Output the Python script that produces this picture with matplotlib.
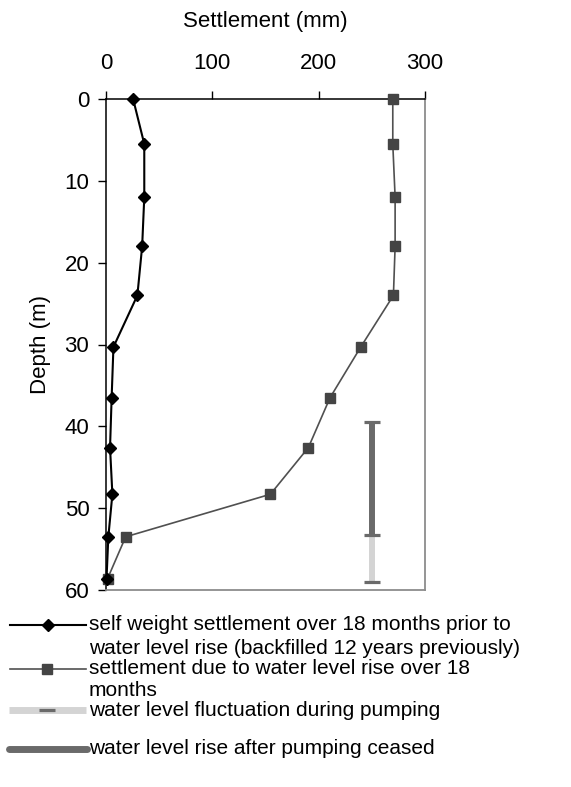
import matplotlib
matplotlib.use("Agg")
import matplotlib.pyplot as plt
from matplotlib.lines import Line2D

plt.rcParams['font.family'] = ['Liberation Sans', 'DejaVu Sans']

# Depth of each measurement point (m)
depth = [0, 5.5, 12, 18, 24, 30.3, 36.5, 42.6, 48.3, 53.5, 58.6]
# Self weight settlement over 18 months prior to water level rise (mm)
self_weight = [25.5, 36, 36, 34, 29.5, 7, 5.3, 3.8, 6, 2.2, 0.5]
# Settlement due to water level rise over 18 months (mm)
rise_settlement = [269.7, 269.7, 271.9, 271.9, 270.3, 239.6, 210.7, 190.3, 154.6, 18.5, 1.5]

# Water level ranges, drawn as vertical bars at a fixed settlement position
bar_x = 250
fluctuation_range = [53.3, 59.0]   # during pumping
rise_range = [39.5, 53.3]          # after pumping ceased

x_ticks = [0, 100, 200, 300]
y_ticks = [0, 10, 20, 30, 40, 50, 60]

legend_labels = [
    "self weight settlement over 18 months prior to\nwater level rise (backfilled 12 years previously)",
    "settlement due to water level rise over 18\nmonths",
    "water level fluctuation during pumping",
    "water level rise after pumping ceased",
]

W, H = 571, 787
fig = plt.figure(figsize=(W / 100, H / 100), dpi=100)

def fx(px):
    return px / W

def fy(py):
    return 1 - py / H

ax = fig.add_axes([fx(106), fy(590), fx(425) - fx(106), fy(99) - fy(590)])

dark_bar = '#6a6a6a'
light_bar = '#d4d4d4'

# water level bars
ax.plot([bar_x, bar_x], fluctuation_range, color=light_bar, lw=4.3,
        solid_capstyle='butt', zorder=2)
ax.plot([bar_x, bar_x], rise_range, color=dark_bar, lw=4.3,
        solid_capstyle='butt', zorder=3)
ax.plot([bar_x] * 3, [rise_range[0], rise_range[1], fluctuation_range[1]],
        ls='none', marker='_', ms=11.5, mew=2.3, color=dark_bar, zorder=4)

# settlement profiles
ax.plot(rise_settlement, depth, color='#505050', lw=1.2, marker='s', ms=7.5,
        mfc='#444444', mec='#444444', clip_on=False, zorder=5)
ax.plot(self_weight, depth, color='black', lw=1.5, marker='D', ms=6.5,
        mfc='black', mec='black', clip_on=False, zorder=6)

ax.set_xlim(0, 300)
ax.set_ylim(60, 0)
ax.xaxis.tick_top()
ax.xaxis.set_label_position('top')
ax.set_xticks(x_ticks)
ax.set_yticks(y_ticks)
ax.tick_params(axis='both', direction='out', length=6, width=1, labelsize=16,
               color='black')
ax.tick_params(axis='x', pad=12)
ax.tick_params(axis='y', pad=6)
ax.set_xlabel('Settlement (mm)', fontsize=16, labelpad=19)
ax.set_ylabel('Depth (m)', fontsize=16, labelpad=10)

for side in ('top', 'left'):
    ax.spines[side].set_color('black')
    ax.spines[side].set_linewidth(1.1)
for side in ('right', 'bottom'):
    ax.spines[side].set_color('#8c8c8c')
    ax.spines[side].set_linewidth(1.3)

# legend, laid out below the plot
text_x = 89
entry_lines_y = [[625, 648], [669, 690], [710], [749]]
handle_x0, handle_x1 = 10, 86
handle_mid = 48

for label, ys in zip(legend_labels, entry_lines_y):
    for line, y in zip(label.split("\n"), ys):
        fig.text(fx(text_x), fy(y), line, fontsize=15,
                 ha='left', va='center')

entry_y = [ys[0] for ys in entry_lines_y]
fig.add_artist(Line2D([fx(handle_x0), fx(handle_x1)], [fy(entry_y[0])] * 2,
                      color='black', lw=1.5))
fig.add_artist(Line2D([fx(handle_mid)], [fy(entry_y[0])], marker='D', ms=6.5,
                      color='black'))
fig.add_artist(Line2D([fx(handle_x0), fx(handle_x1)], [fy(entry_y[1])] * 2,
                      color='#505050', lw=1.2))
fig.add_artist(Line2D([fx(handle_mid - 1)], [fy(entry_y[1])], marker='s', ms=7.5,
                      color='#444444'))
fig.add_artist(Line2D([fx(handle_x0 - 1), fx(handle_x1)], [fy(entry_y[2])] * 2,
                      color=light_bar, lw=5, solid_capstyle='butt'))
fig.add_artist(Line2D([fx(39), fx(55)], [fy(entry_y[2])] * 2,
                      color=dark_bar, lw=2.3, solid_capstyle='butt'))
fig.add_artist(Line2D([fx(handle_x0 - 1), fx(handle_x1 + 1)], [fy(entry_y[3])] * 2,
                      color=dark_bar, lw=5, solid_capstyle='round'))

fig.savefig('out.png', dpi=100)
